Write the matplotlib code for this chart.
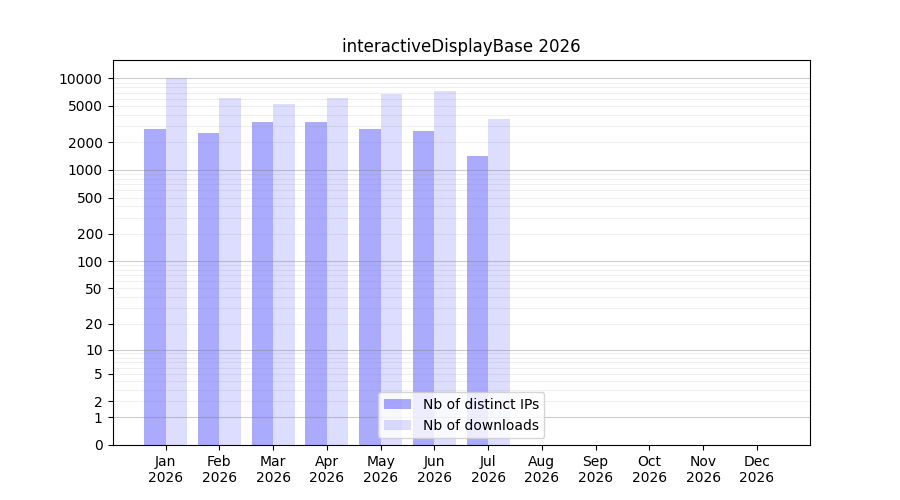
import numpy as np
import matplotlib
matplotlib.use("Agg")
import matplotlib.pyplot as plt
from matplotlib.ticker import FixedLocator, FixedFormatter

months = ["Jan", "Feb", "Mar", "Apr", "May", "Jun", "Jul", "Aug", "Sep", "Oct", "Nov", "Dec"]
year = "2026"
ips = [2810, 2550, 3360, 3360, 2810, 2680, 1430, 0, 0, 0, 0, 0]
downloads = [10000, 6140, 5280, 6040, 6790, 7330, 3620, 0, 0, 0, 0, 0]
yticks = [0, 1, 2, 5, 10, 20, 50, 100, 200, 500, 1000, 2000, 5000, 10000]
title = "interactiveDisplayBase 2026"


def fwd(v):
    return np.log10(1 + np.clip(v, 0, None))


def inv(v):
    return 10 ** np.asarray(v) - 1


fig, ax = plt.subplots(figsize=(9, 5), dpi=100)
ax.set_yscale("function", functions=(fwd, inv))

x = np.arange(len(months))
w = 0.4
ax.bar(x - w / 2, ips, width=w, color="blue", alpha=1 / 3, label="Nb of distinct IPs")
ax.bar(x + w / 2, downloads, width=w, color="blue", alpha=0.135, label="Nb of downloads")

ax.yaxis.set_major_locator(FixedLocator(yticks))
ax.yaxis.set_major_formatter(FixedFormatter([str(t) for t in yticks]))
major_grid = [1, 10, 100, 1000, 10000]
minor_grid = [m * 10 ** d for d in range(0, 4) for m in range(2, 10)]
for g in major_grid:
    ax.axhline(g, color="0.5", alpha=0.4, lw=0.8, zorder=1.5)
for g in minor_grid:
    ax.axhline(g, color="0.5", alpha=0.12, lw=0.8, zorder=1.5)

ax.set_xticks(x)
ax.set_xticklabels([f"{m}\n{year}" for m in months])
ax.set_title(title)
ax.legend(loc="lower center")

fig.savefig("out.png", dpi=100)
